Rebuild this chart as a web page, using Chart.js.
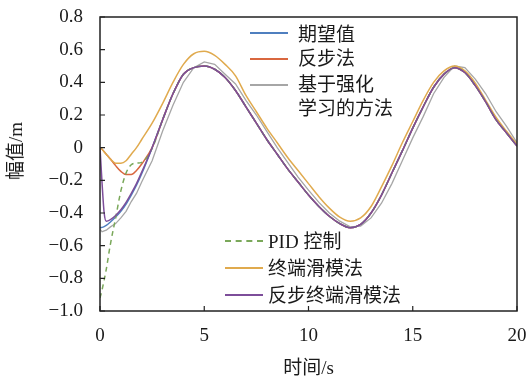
<!DOCTYPE html>
<html><head><meta charset="utf-8">
<script src="https://cdn.jsdelivr.net/npm/chart.js@4.4.1/dist/chart.umd.min.js"></script>
<style>
html,body{margin:0;padding:0;background:#fff;}
#wrap{position:relative;width:526px;height:381px;overflow:hidden;}
canvas{position:absolute;left:0;top:0;}
.lg{position:absolute;font-family:"Times New Roman","Liberation Serif",serif,"Noto Sans CJK SC";font-size:19px;line-height:20px;color:#1a1a1a;white-space:nowrap;}
.cjk{font-family:"Noto Sans CJK SC";}
.sw{position:absolute;height:0;border-top-width:2px;border-top-style:solid;width:38px;}
#ytitle{position:absolute;left:15px;top:151px;transform:translate(-50%,-50%) rotate(-90deg);font-family:"Times New Roman","Liberation Serif",serif;font-size:19px;color:#1a1a1a;white-space:nowrap;line-height:20px;}
</style></head>
<body>
<div id="wrap">
<canvas id="c" width="526" height="381"></canvas>
<div id="ytitle"><span class="cjk">幅值</span>/m</div>
<div class="sw" style="left:250px;top:32px;border-top-color:#4f7fbf"></div>
<div class="lg cjk" style="left:298px;top:23px">期望值</div>
<div class="sw" style="left:250px;top:58px;border-top-color:#d9673f"></div>
<div class="lg cjk" style="left:298px;top:47px">反步法</div>
<div class="sw" style="left:250px;top:84px;border-top-color:#a6a6a6"></div>
<div class="lg cjk" style="left:298px;top:73px">基于强化</div>
<div class="lg cjk" style="left:298px;top:97px">学习的方法</div>
<div class="sw" style="left:225px;top:240px;border-top-color:#7aa85a;border-top-style:dashed"></div>
<div class="lg" style="left:268px;top:230px">PID <span class="cjk">控制</span></div>
<div class="sw" style="left:225px;top:267px;border-top-color:#e0aa4e"></div>
<div class="lg cjk" style="left:268px;top:257px">终端滑模法</div>
<div class="sw" style="left:225px;top:294px;border-top-color:#7d4e9a"></div>
<div class="lg cjk" style="left:268px;top:284px">反步终端滑模法</div>
</div>
<script>
// time points (s)
const time = [0,0.1,0.2,0.3,0.5,0.75,1,1.25,1.5,1.75,2,2.5,3,3.5,4,4.5,5,5.5,6,6.5,7,7.5,8,8.5,9,9.5,10,10.5,11,11.5,12,12.5,13,13.5,14,14.5,15,15.5,16,16.5,17,17.5,18,18.5,19,19.5,20];
// 期望值
const desired = [-0.49,-0.488,-0.483,-0.476,-0.455,-0.425,-0.39,-0.345,-0.29,-0.23,-0.16,0.0,0.17,0.33,0.45,0.49,0.50,0.48,0.43,0.35,0.25,0.15,0.05,-0.04,-0.13,-0.21,-0.29,-0.36,-0.42,-0.465,-0.49,-0.47,-0.40,-0.29,-0.155,-0.02,0.12,0.25,0.37,0.45,0.49,0.46,0.38,0.28,0.17,0.09,0.01];
// 反步法
const backstep = [0,-0.01,-0.025,-0.04,-0.07,-0.11,-0.145,-0.165,-0.165,-0.14,-0.10,0.0,0.17,0.33,0.45,0.49,0.50,0.48,0.43,0.35,0.25,0.15,0.05,-0.04,-0.13,-0.21,-0.29,-0.36,-0.42,-0.465,-0.49,-0.47,-0.40,-0.29,-0.155,-0.02,0.12,0.25,0.37,0.45,0.49,0.46,0.38,0.28,0.17,0.09,0.01];
// 基于强化学习的方法
const rl = [-0.50,-0.515,-0.51,-0.505,-0.485,-0.465,-0.43,-0.39,-0.33,-0.28,-0.21,-0.08,0.10,0.26,0.40,0.49,0.525,0.51,0.45,0.39,0.29,0.20,0.10,0.0,-0.09,-0.18,-0.26,-0.335,-0.40,-0.45,-0.485,-0.48,-0.43,-0.34,-0.22,-0.08,0.06,0.19,0.33,0.43,0.50,0.49,0.42,0.33,0.22,0.13,0.03];
// PID 控制
const pid = [-0.92,-0.87,-0.81,-0.745,-0.59,-0.43,-0.265,-0.155,-0.105,-0.095,-0.09,-0.005,0.17,0.33,0.45,0.49,0.50,0.48,0.43,0.35,0.25,0.15,0.05,-0.04,-0.13,-0.21,-0.29,-0.36,-0.42,-0.465,-0.49,-0.47,-0.40,-0.29,-0.155,-0.02,0.12,0.25,0.37,0.45,0.49,0.46,0.38,0.28,0.17,0.09,0.01];
// 终端滑模法
const tsm = [0,-0.01,-0.025,-0.04,-0.07,-0.095,-0.095,-0.08,-0.04,0.0,0.05,0.15,0.27,0.40,0.51,0.575,0.59,0.565,0.51,0.44,0.32,0.22,0.12,0.03,-0.06,-0.14,-0.22,-0.30,-0.37,-0.425,-0.45,-0.43,-0.36,-0.24,-0.11,0.03,0.16,0.29,0.40,0.47,0.50,0.47,0.395,0.29,0.185,0.10,0.02];
// 反步终端滑模法
const bstsm = [0,-0.22,-0.40,-0.45,-0.44,-0.415,-0.38,-0.335,-0.28,-0.22,-0.15,0.0,0.17,0.33,0.45,0.49,0.50,0.48,0.43,0.35,0.25,0.15,0.05,-0.04,-0.13,-0.21,-0.29,-0.36,-0.42,-0.465,-0.49,-0.47,-0.40,-0.29,-0.155,-0.02,0.12,0.25,0.37,0.45,0.49,0.46,0.38,0.28,0.17,0.09,0.01];
const xTicks = [0,5,10,15,20];
const yTicks = [-1.0,-0.8,-0.6,-0.4,-0.2,0,0.2,0.4,0.6,0.8];

const pts = arr => time.map((t,i)=>({x:t,y:arr[i]}));
const NUM_FONT = '"Times New Roman", "Liberation Serif", serif';
const TITLE_FONT = '"Times New Roman", "Liberation Serif", "Noto Sans CJK SC", serif';

const framePlugin = {
  id:'frame',
  afterDatasetsDraw(chart){
    const {ctx, chartArea:a, scales:{x,y}} = chart;
    ctx.save();
    ctx.strokeStyle='#222'; ctx.lineWidth=1.5;
    ctx.strokeRect(a.left, a.top, a.right-a.left, a.bottom-a.top);
    ctx.lineWidth=1.2;
    ctx.beginPath();
    x.ticks.forEach(t=>{const p=x.getPixelForValue(t.value); ctx.moveTo(p,a.bottom); ctx.lineTo(p,a.bottom-5);});
    y.ticks.forEach(t=>{const p=y.getPixelForValue(t.value); ctx.moveTo(a.left,p); ctx.lineTo(a.left+5,p);});
    ctx.stroke(); ctx.restore();
  }
};

const ds = (data,color,order,extra)=>Object.assign({data:pts(data),borderColor:color,backgroundColor:color,borderWidth:1.5,pointRadius:0,fill:false,cubicInterpolationMode:'monotone',order},extra||{});

new Chart(document.getElementById('c'),{
  type:'line',
  data:{datasets:[
    ds(desired,'#4f7fbf',10),
    ds(backstep,'#d9673f',8),
    ds(rl,'#a6a6a6',7,{tension:0,cubicInterpolationMode:'default',borderWidth:1.3}),
    ds(tsm,'#e0aa4e',6),
    ds(pid,'#7aa85a',5,{borderDash:[5,4]}),
    ds(bstsm,'#7d4e9a',4)
  ]},
  options:{
    responsive:false,animation:false,devicePixelRatio:1,
    layout:{padding:{top:17,right:9,left:0,bottom:0}},
    plugins:{legend:{display:false},tooltip:{enabled:false}},
    scales:{
      x:{type:'linear',min:0,max:20,
        afterBuildTicks:s=>{s.ticks=xTicks.map(v=>({value:v}));},
        afterFit:s=>{s.height=70;s.paddingLeft=0;s.paddingRight=0;},
        grid:{display:false,drawTicks:false},border:{display:false},
        ticks:{padding:14,color:'#1a1a1a',font:{family:NUM_FONT,size:19},maxRotation:0,callback:v=>String(v)},
        title:{display:true,text:'时间/s',color:'#1a1a1a',font:{family:TITLE_FONT,size:19},padding:{top:0,bottom:1}}
      },
      y:{type:'linear',min:-1.0,max:0.8,
        afterBuildTicks:s=>{s.ticks=yTicks.map(v=>({value:v}));},
        afterFit:s=>{s.width=100;s.paddingTop=0;s.paddingBottom=0;},
        grid:{display:false,drawTicks:false},border:{display:false},
        ticks:{padding:17,color:'#1a1a1a',font:{family:NUM_FONT,size:19},
          callback:v=>{ if(Math.abs(v)<1e-9) return '0'; const s=Math.abs(v).toFixed(1); return v<0?'\u2212'+s:s; }},
        title:{display:false}
      }
    }
  },
  plugins:[framePlugin]
});
</script>
</body></html>
